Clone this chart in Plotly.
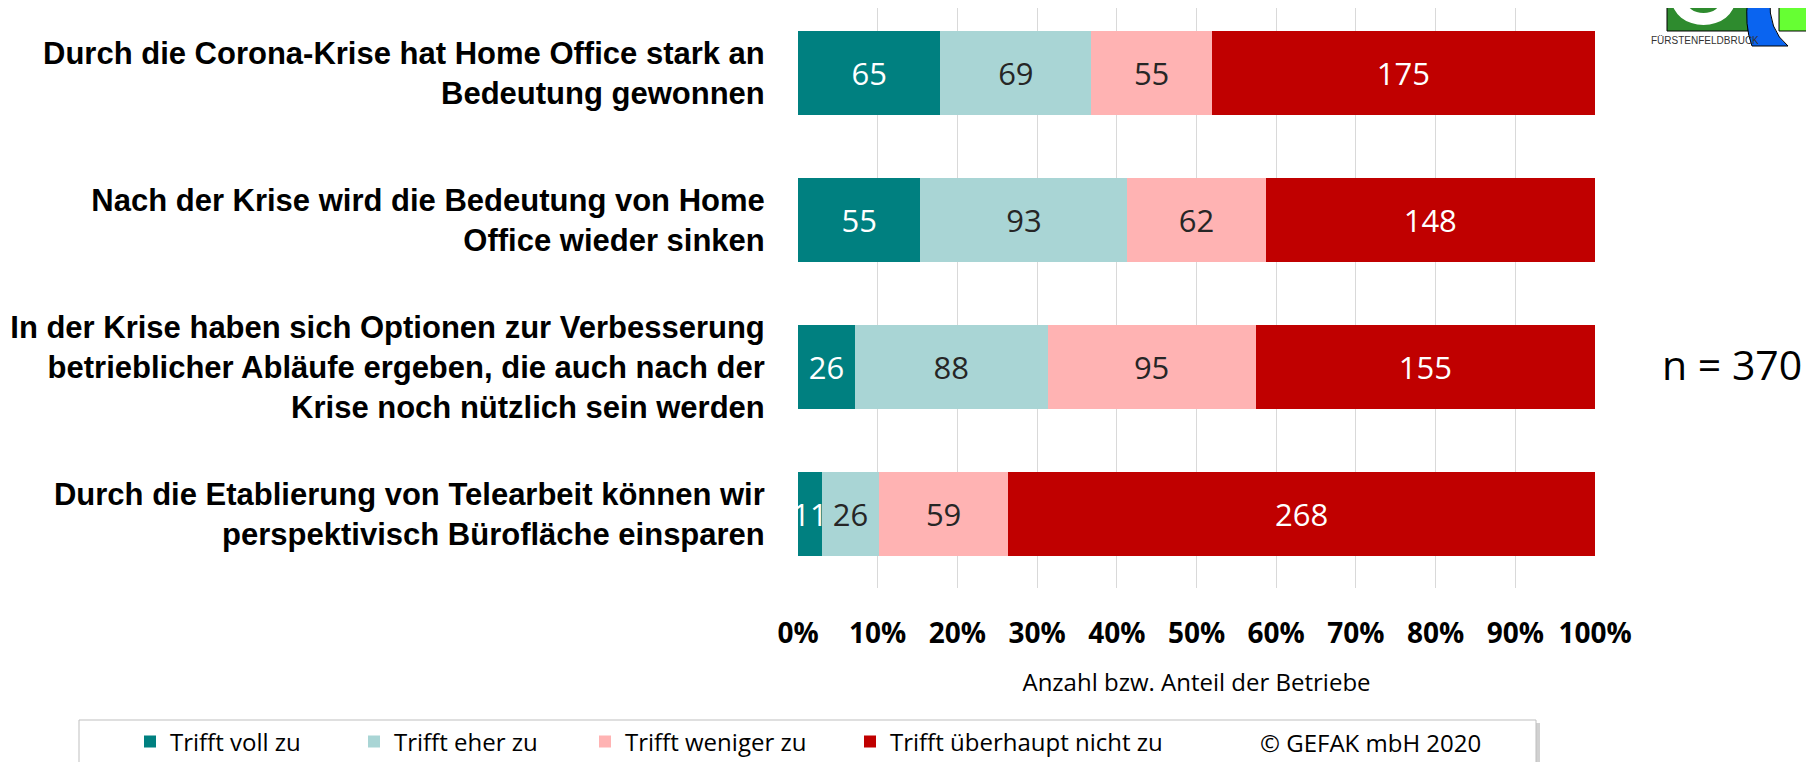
import plotly.graph_objects as go

# ---------------- data ----------------
categories = [
    "Durch die Corona-Krise hat Home Office stark an<br>Bedeutung gewonnen",
    "Nach der Krise wird die Bedeutung von Home<br>Office wieder sinken",
    "In der Krise haben sich Optionen zur Verbesserung<br>betrieblicher Abläufe ergeben, die auch nach der<br>Krise noch nützlich sein werden",
    "Durch die Etablierung von Telearbeit können wir<br>perspektivisch Bürofläche einsparen",
]
series_names = ["Trifft voll zu", "Trifft eher zu", "Trifft weniger zu", "Trifft überhaupt nicht zu"]
trifft_voll = [65, 55, 26, 11]
trifft_eher = [69, 93, 88, 26]
trifft_weniger = [55, 62, 95, 59]
trifft_nicht = [175, 148, 155, 268]
x_tickvals = [0, 10, 20, 30, 40, 50, 60, 70, 80, 90, 100]
x_ticktext = [f"{v}%" for v in x_tickvals]
sample_note = "n = 370"
copyright_note = "© GEFAK mbH 2020"
axis_title = "Anzahl bzw. Anteil der Betriebe"

series_values = [trifft_voll, trifft_eher, trifft_weniger, trifft_nicht]
colors = ["#008080", "#a9d5d5", "#ffb3b3", "#c00000"]
label_colors = ["#ffffff", "#262626", "#262626", "#ffffff"]

# ---------------- geometry helpers (page pixels -> paper) ----------------
# the page body adds an 8 px offset; targets below are given in page pixels
OFF = 8
W, H = 1814, 762
ML, MR, MT, MB = 790, 227, 0, 182
PW, PH = W - ML - MR, H - MT - MB


def fx(px):
    return (px - OFF - ML) / PW


def fy(py):
    return 1 - (py - OFF - MT) / PH


fig = go.Figure()
legend_ids = ["legend", "legend2", "legend3", "legend4"]
for name, vals, col, lcol, lid in zip(series_names, series_values, colors, label_colors, legend_ids):
    fig.add_trace(go.Bar(
        name=name,
        y=categories,
        x=vals,
        orientation="h",
        marker=dict(color=col, line=dict(width=0)),
        text=[str(v) for v in vals],
        textposition="inside",
        insidetextanchor="middle",
        textangle=0,
        constraintext="none",
        textfont=dict(family="Open Sans", size=31, color=lcol),
        legend=lid,
    ))

# legends, one per entry, placed along the bottom box
symbol_centers = [150, 374, 605, 870]
legend_layout = {}
for lid, sc in zip(legend_ids, symbol_centers):
    legend_layout[lid] = dict(
        x=fx(sc - 20), xanchor="left",
        y=fy(742), yanchor="middle",
        orientation="h",
        bgcolor="rgba(0,0,0,0)",
        borderwidth=0,
        font=dict(family="Open Sans", size=24, color="#000000"),
        itemclick=False,
    )

shapes = []
# legend box shadow and box
shapes.append(dict(type="rect", xref="paper", yref="paper",
                   x0=fx(82), x1=fx(1540), y0=fy(785), y1=fy(723),
                   fillcolor="rgba(0,0,0,0.18)", line=dict(width=0), layer="above"))
shapes.append(dict(type="rect", xref="paper", yref="paper",
                   x0=fx(79), x1=fx(1536), y0=fy(785), y1=fy(720),
                   fillcolor="#ffffff", line=dict(color="#bfbfbf", width=1), layer="above"))

# small logo in the top-right corner
shapes.append(dict(type="rect", xref="paper", yref="paper",
                   x0=fx(1667), x1=fx(1748), y0=fy(31), y1=fy(-2),
                   fillcolor="#2e8b2e", line=dict(color="#000000", width=1)))
shapes.append(dict(type="circle", xref="paper", yref="paper",
                   x0=fx(1672), x1=fx(1735), y0=fy(25), y1=fy(-25),
                   fillcolor="#ffffff", line=dict(width=0)))
shapes.append(dict(type="circle", xref="paper", yref="paper",
                   x0=fx(1686), x1=fx(1721), y0=fy(13), y1=fy(-13),
                   fillcolor="#2e8b2e", line=dict(width=0)))
shapes.append(dict(type="rect", xref="paper", yref="paper",
                   x0=fx(1779), x1=fx(1807), y0=fy(31), y1=fy(-2),
                   fillcolor="#66ff33", line=dict(color="#000000", width=1)))
blue_path = (f"M {fx(1748)},{fy(-2)} L {fx(1770)},{fy(-2)} "
             f"Q {fx(1768)},{fy(30)} {fx(1788)},{fy(46)} "
             f"L {fx(1752)},{fy(46)} Q {fx(1744)},{fy(25)} {fx(1748)},{fy(-2)} Z")
shapes.append(dict(type="path", xref="paper", yref="paper", path=blue_path,
                   fillcolor="#0a64f0", line=dict(color="#000000", width=1)))

annotations = [
    dict(text=sample_note, xref="paper", yref="paper", x=fx(1732), y=fy(364),
         xanchor="center", yanchor="middle", showarrow=False,
         font=dict(family="Open Sans", size=41, color="#000000")),
    dict(text=copyright_note, xref="paper", yref="paper", x=fx(1258), y=fy(742),
         xanchor="left", yanchor="middle", showarrow=False,
         font=dict(family="Open Sans", size=24, color="#000000")),
    dict(text="FÜRSTENFELDBRUCK", xref="paper", yref="paper", x=fx(1705), y=fy(40),
         xanchor="center", yanchor="middle", showarrow=False,
         font=dict(family="Liberation Sans Narrow, Liberation Sans", size=10, color="#333333")),
]

fig.update_layout(
    width=W, height=H,
    margin=dict(l=ML, r=MR, t=MT, b=MB, pad=0, autoexpand=False),
    barmode="stack",
    barnorm="percent",
    bargap=0.43,
    paper_bgcolor="#ffffff",
    plot_bgcolor="#ffffff",
    showlegend=True,
    shapes=shapes,
    annotations=annotations,
    **legend_layout,
)

fig.update_xaxes(
    range=[0, 100],
    tickvals=x_tickvals,
    ticktext=x_ticktext,
    showgrid=True, gridcolor="#d9d9d9", gridwidth=1,
    zeroline=False, showline=False,
    ticks="outside", ticklen=20, tickcolor="rgba(0,0,0,0)",
    tickfont=dict(family="Open Sans", size=28, color="#000000", weight="bold"),
    title=dict(text=axis_title, standoff=24,
               font=dict(family="Open Sans", size=24, color="#000000")),
    fixedrange=True,
)
fig.update_yaxes(
    range=[3.503, -0.442],
    showgrid=False, zeroline=False, showline=False,
    ticks="outside", ticklen=26, tickcolor="rgba(0,0,0,0)",
    tickfont=dict(family="Liberation Sans Narrow, Liberation Sans", size=31, color="#000000", weight="bold"),
    fixedrange=True,
)

fig.write_html("out.html")
